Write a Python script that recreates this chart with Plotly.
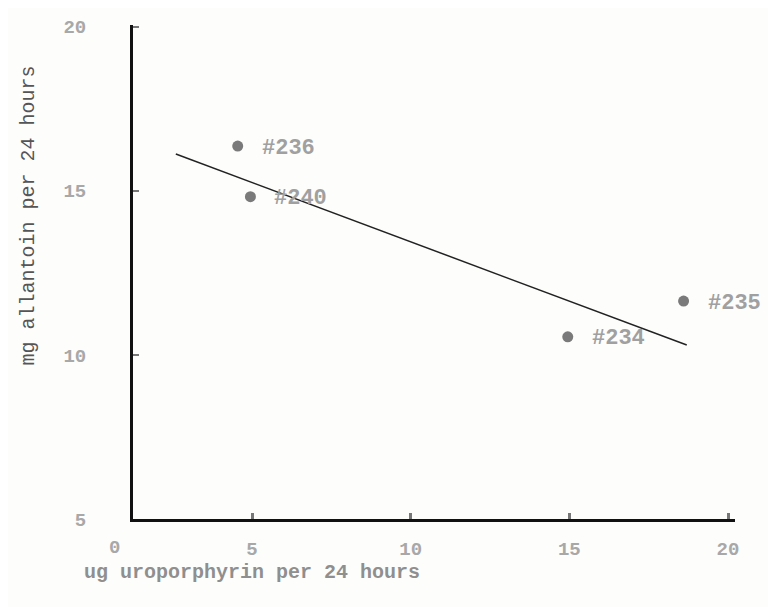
import plotly.graph_objects as go

# Data
subjects = ["#236", "#240", "#234", "#235"]
uroporphyrin = [4.55, 4.95, 14.95, 18.6]       # ug per 24 hours
allantoin = [16.36, 14.82, 10.55, 11.64]       # mg per 24 hours

fit_x = [2.6, 18.7]
fit_y = [16.12, 10.3]

x_ticks = [5, 10, 15, 20]
y_ticks = [5, 10, 15, 20]
origin_label = "0"
x_title = "ug uroporphyrin per 24 hours"
y_title = "mg allantoin per 24 hours"

FONT = "Liberation Mono"

fig = go.Figure()

fig.add_trace(go.Scatter(
    x=fit_x, y=fit_y, mode="lines",
    line=dict(color="#222222", width=1.5),
    showlegend=False, hoverinfo="skip"))

fig.add_trace(go.Scatter(
    x=uroporphyrin, y=allantoin, mode="markers",
    marker=dict(size=11, color="#7a7a7a"),
    showlegend=False))

for s, xv, yv in zip(subjects, uroporphyrin, allantoin):
    fig.add_annotation(x=xv, y=yv, text="<b>" + s + "</b>", showarrow=False,
                       xanchor="left", yanchor="middle", xshift=22, yshift=-2,
                       font=dict(family=FONT, size=22, color="#a0a0a0"))

fig.add_annotation(x=-0.030, y=-0.059, xref="paper", yref="paper",
                   xanchor="center", yanchor="middle",
                   text="<b>" + origin_label + "</b>",
                   showarrow=False, font=dict(family=FONT, size=19, color="#a8a8a8"))

fig.add_annotation(x=-0.085, y=-0.109, xref="paper", yref="paper",
                   text="<b>" + x_title + "</b>", xanchor="left", yanchor="middle",
                   showarrow=False, font=dict(family=FONT, size=20, color="#8f8f8f"))

fig.add_annotation(x=-0.174, y=0.615, xref="paper", yref="paper",
                   text=y_title, textangle=-90, xanchor="center", yanchor="middle",
                   showarrow=False, font=dict(family=FONT, size=20, color="#555555"))

fig.update_xaxes(
    range=[1.25, 20.22], tickvals=x_ticks, ticktext=["<b>%d</b>" % v for v in x_ticks],
    showline=True, linecolor="#111111", linewidth=3, mirror=False,
    ticks="inside", ticklen=6, tickwidth=3, tickcolor="#777777",
    ticklabelstandoff=10, automargin=False,
    showgrid=False, zeroline=False,
    tickfont=dict(family=FONT, size=19, color="#a8a8a8"))

fig.update_yaxes(
    range=[5, 20.05], tickvals=y_ticks, ticktext=["<b>%d</b>" % v for v in y_ticks],
    showline=True, linecolor="#111111", linewidth=3,
    ticks="inside", ticklen=6, tickwidth=2, tickcolor="#777777",
    ticklabelstandoff=40, automargin=False,
    showgrid=False, zeroline=False,
    tickfont=dict(family=FONT, size=19, color="#a8a8a8"))

# the page body offsets the figure, so it is drawn a little smaller than the window
fig.update_layout(
    width=768, height=599,
    margin=dict(l=125, r=41, t=17, b=88),
    paper_bgcolor="#fdfdfc", plot_bgcolor="#fdfdfc",
)

fig.write_html("out.html")
